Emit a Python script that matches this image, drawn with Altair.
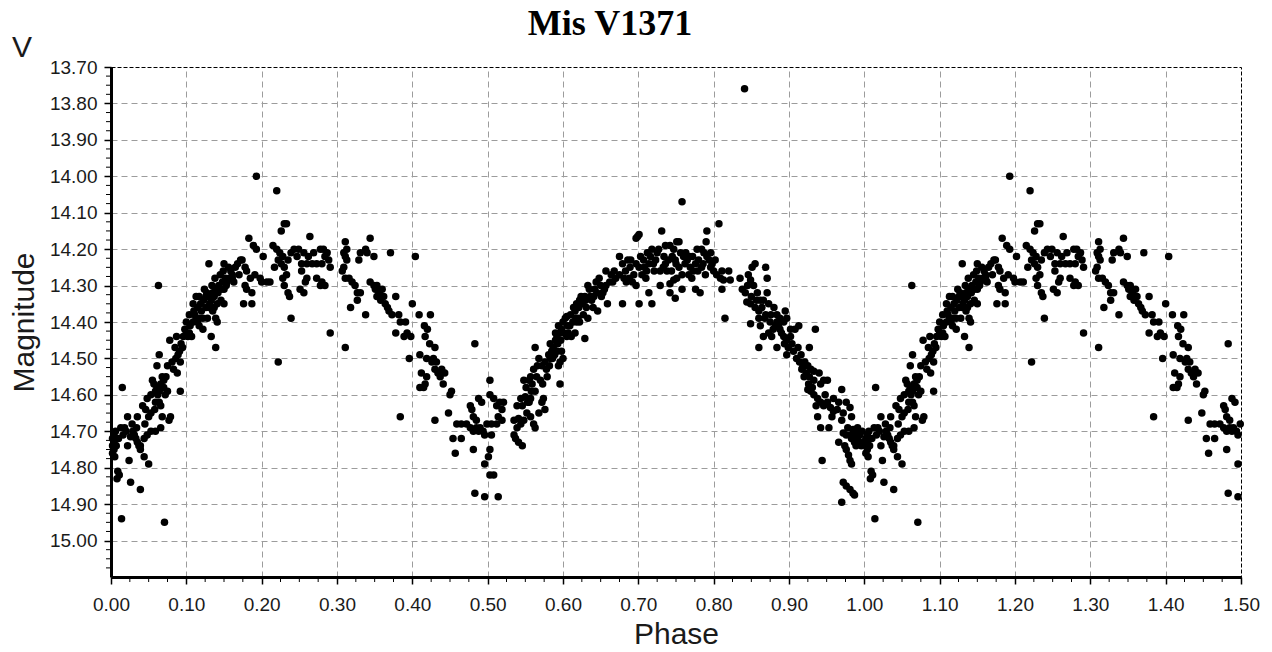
import altair as alt
import pandas as pd

# ---- observations (phase, V magnitude), phase 0..1; phases <= 0.5 are repeated at +1 ----
seg_a = [
    (0.015, 14.58), (0.014, 14.94), (0.071, 14.95), (0.026, 14.84), (0.039, 14.86), (0.024, 14.78),
    (0.050, 14.79), (0.044, 14.77), (0.004, 14.71), (0.004, 14.73), (0.007, 14.74), (0.004, 14.75),
    (0.005, 14.77), (0.009, 14.81), (0.008, 14.83), (0.011, 14.82), (0.013, 14.69), (0.020, 14.70),
    (0.029, 14.70), (0.031, 14.71), (0.033, 14.72), (0.035, 14.73), (0.037, 14.74), (0.039, 14.75),
    (0.022, 14.74), (0.048, 14.71), (0.053, 14.70), (0.059, 14.70), (0.066, 14.69), (0.022, 14.66),
    (0.035, 14.66), (0.053, 14.65), (0.068, 14.66), (0.079, 14.66), (0.042, 14.63), (0.046, 14.64),
    (0.066, 14.63), (0.048, 14.61), (0.055, 14.56), (0.057, 14.57), (0.061, 14.58), (0.066, 14.57),
    (0.070, 14.58), (0.059, 14.59), (0.064, 14.59), (0.068, 14.55), (0.075, 14.59), (0.072, 14.60),
    (0.092, 14.59), (0.053, 14.60), (0.061, 14.52), (0.064, 14.49), (0.075, 14.52), (0.081, 14.51),
    (0.088, 14.54), (0.092, 14.51), (0.002, 14.72), (0.002, 14.74), (0.002, 14.76), (0.018, 14.69),
    (0.026, 14.715), (0.059, 14.62), (0.077, 14.67), (0.064, 14.62), (0.044, 14.72), (0.039, 14.74),
]
seg_b = [
    (0.193, 14.00), (0.220, 14.04), (0.226, 14.15), (0.230, 14.13), (0.233, 14.13), (0.183, 14.17),
    (0.189, 14.19), (0.193, 14.20), (0.202, 14.22), (0.207, 14.29), (0.174, 14.23), (0.178, 14.25),
    (0.180, 14.26), (0.185, 14.28), (0.191, 14.27), (0.198, 14.28), (0.178, 14.30), (0.180, 14.31),
    (0.187, 14.32), (0.200, 14.29), (0.211, 14.29), (0.176, 14.35), (0.187, 14.35), (0.239, 14.39),
    (0.222, 14.51), (0.215, 14.19), (0.220, 14.20), (0.224, 14.21), (0.228, 14.22), (0.222, 14.23),
    (0.226, 14.24), (0.230, 14.25), (0.235, 14.23), (0.239, 14.21), (0.243, 14.20), (0.217, 14.25),
    (0.233, 14.27), (0.228, 14.28), (0.230, 14.30), (0.235, 14.32), (0.237, 14.33), (0.130, 14.24),
    (0.150, 14.24), (0.063, 14.30), (0.172, 14.23), (0.161, 14.27), (0.157, 14.28), (0.152, 14.28),
    (0.148, 14.29), (0.143, 14.30), (0.139, 14.31), (0.135, 14.32), (0.130, 14.33), (0.150, 14.31),
    (0.154, 14.29), (0.124, 14.31), (0.126, 14.33), (0.133, 14.34), (0.137, 14.36), (0.141, 14.35),
    (0.146, 14.34), (0.150, 14.35), (0.139, 14.39), (0.135, 14.37), (0.130, 14.36), (0.117, 14.33),
    (0.115, 14.36), (0.120, 14.37), (0.122, 14.39), (0.128, 14.39), (0.141, 14.40), (0.133, 14.44),
    (0.139, 14.47), (0.113, 14.33), (0.109, 14.35), (0.104, 14.38), (0.100, 14.40), (0.098, 14.42),
    (0.096, 14.44), (0.093, 14.46), (0.091, 14.48), (0.089, 14.49), (0.085, 14.47), (0.078, 14.45),
    (0.087, 14.44), (0.102, 14.44), (0.104, 14.43), (0.113, 14.39), (0.111, 14.38), (0.159, 14.26),
    (0.165, 14.25), (0.170, 14.27), (0.161, 14.28), (0.146, 14.31), (0.137, 14.33), (0.126, 14.36),
    (0.117, 14.39), (0.109, 14.40), (0.100, 14.43), (0.117, 14.41), (0.107, 14.44), (0.122, 14.42),
]
seg_c = [
    (0.264, 14.165), (0.249, 14.20), (0.256, 14.21), (0.262, 14.22), (0.269, 14.21), (0.278, 14.20),
    (0.282, 14.20), (0.287, 14.21), (0.284, 14.22), (0.289, 14.23), (0.291, 14.25), (0.280, 14.24),
    (0.273, 14.24), (0.267, 14.24), (0.260, 14.24), (0.253, 14.24), (0.247, 14.22), (0.253, 14.26),
    (0.260, 14.28), (0.258, 14.29), (0.256, 14.32), (0.273, 14.28), (0.280, 14.29), (0.278, 14.30),
    (0.284, 14.30), (0.291, 14.43), (0.311, 14.47), (0.311, 14.18), (0.313, 14.20), (0.309, 14.21),
    (0.311, 14.22), (0.313, 14.23), (0.309, 14.25), (0.307, 14.26), (0.311, 14.28), (0.316, 14.28),
    (0.320, 14.29), (0.324, 14.30), (0.327, 14.32), (0.331, 14.32), (0.318, 14.36), (0.327, 14.34),
    (0.338, 14.38), (0.329, 14.23), (0.331, 14.21), (0.338, 14.20), (0.340, 14.21), (0.344, 14.17),
    (0.349, 14.22), (0.371, 14.21), (0.404, 14.22), (0.344, 14.29), (0.349, 14.30), (0.351, 14.31),
    (0.353, 14.33), (0.356, 14.32), (0.360, 14.31), (0.358, 14.34), (0.362, 14.33), (0.364, 14.35),
    (0.367, 14.36), (0.369, 14.37), (0.373, 14.38), (0.378, 14.33), (0.353, 14.30), (0.382, 14.38),
    (0.384, 14.40), (0.391, 14.40), (0.393, 14.43), (0.398, 14.44), (0.378, 14.43), (0.389, 14.44),
    (0.396, 14.50), (0.400, 14.35), (0.409, 14.38), (0.416, 14.41), (0.420, 14.42), (0.424, 14.38),
    (0.384, 14.66), (0.251, 14.31),
]
seg_d = [
    (0.483, 14.46), (0.503, 14.56), (0.452, 14.59), (0.450, 14.60), (0.448, 14.65), (0.430, 14.67),
    (0.488, 14.61), (0.492, 14.62), (0.477, 14.63), (0.479, 14.64), (0.481, 14.66), (0.485, 14.67),
    (0.503, 14.60), (0.508, 14.61), (0.516, 14.62), (0.521, 14.62), (0.512, 14.63), (0.519, 14.64),
    (0.514, 14.66), (0.519, 14.67), (0.512, 14.68), (0.505, 14.68), (0.499, 14.68), (0.494, 14.70),
    (0.490, 14.69), (0.485, 14.69), (0.477, 14.69), (0.472, 14.68), (0.465, 14.68), (0.459, 14.68),
    (0.481, 14.70), (0.488, 14.70), (0.496, 14.71), (0.505, 14.71), (0.465, 14.72), (0.454, 14.72),
    (0.503, 14.75), (0.501, 14.77), (0.496, 14.79), (0.503, 14.82), (0.508, 14.82), (0.481, 14.75),
    (0.457, 14.76), (0.483, 14.87), (0.496, 14.88), (0.514, 14.88), (0.423, 14.46), (0.430, 14.47),
    (0.428, 14.50), (0.432, 14.51), (0.430, 14.53), (0.434, 14.54), (0.439, 14.53), (0.443, 14.54),
    (0.437, 14.55), (0.441, 14.57), (0.419, 14.55), (0.417, 14.57), (0.415, 14.58), (0.410, 14.58),
    (0.410, 14.49), (0.417, 14.44), (0.419, 14.50), (0.426, 14.51), (0.412, 14.54),
]
seg_e = [
    (0.537, 14.72), (0.541, 14.73), (0.546, 14.74), (0.535, 14.71), (0.539, 14.69), (0.544, 14.68),
    (0.535, 14.67), (0.541, 14.665), (0.548, 14.67), (0.561, 14.68), (0.563, 14.69), (0.557, 14.66),
    (0.552, 14.65), (0.546, 14.63), (0.539, 14.63), (0.544, 14.61), (0.550, 14.605), (0.557, 14.61),
    (0.555, 14.62), (0.548, 14.56), (0.555, 14.56), (0.572, 14.62), (0.576, 14.64), (0.568, 14.65),
    (0.574, 14.61), (0.563, 14.59), (0.559, 14.57), (0.557, 14.55), (0.561, 14.53), (0.566, 14.52),
    (0.568, 14.50), (0.563, 14.47), (0.572, 14.52), (0.576, 14.51), (0.579, 14.55), (0.581, 14.49),
    (0.585, 14.48), (0.583, 14.46), (0.587, 14.47), (0.590, 14.45), (0.592, 14.44), (0.596, 14.43),
    (0.598, 14.42), (0.594, 14.41), (0.590, 14.43), (0.600, 14.40), (0.603, 14.39), (0.605, 14.385),
    (0.609, 14.41), (0.607, 14.43), (0.598, 14.48), (0.596, 14.51), (0.594, 14.52), (0.600, 14.50),
    (0.596, 14.57), (0.611, 14.44), (0.616, 14.43), (0.618, 14.40), (0.622, 14.40), (0.616, 14.37),
    (0.618, 14.35), (0.622, 14.34), (0.624, 14.33), (0.629, 14.33), (0.633, 14.30), (0.635, 14.31),
    (0.638, 14.34), (0.640, 14.36), (0.631, 14.36), (0.627, 14.38), (0.646, 14.37), (0.651, 14.33),
    (0.653, 14.32), (0.657, 14.30), (0.657, 14.26), (0.664, 14.27), (0.662, 14.29), (0.666, 14.29),
    (0.670, 14.28), (0.675, 14.27), (0.675, 14.22), (0.679, 14.24), (0.683, 14.26), (0.688, 14.28),
    (0.692, 14.29), (0.697, 14.30), (0.690, 14.23), (0.697, 14.24), (0.701, 14.25), (0.705, 14.27),
    (0.707, 14.23), (0.712, 14.21), (0.714, 14.24), (0.697, 14.17), (0.701, 14.16), (0.699, 14.165),
    (0.731, 14.15), (0.718, 14.20), (0.727, 14.20), (0.734, 14.22), (0.736, 14.24), (0.729, 14.30),
    (0.714, 14.32), (0.718, 14.35), (0.701, 14.35), (0.679, 14.35), (0.659, 14.35), (0.633, 14.39),
    (0.629, 14.445), (0.614, 14.36), (0.620, 14.39), (0.642, 14.31), (0.644, 14.29), (0.648, 14.28),
    (0.668, 14.26), (0.681, 14.28), (0.686, 14.23), (0.710, 14.28), (0.723, 14.23), (0.736, 14.19),
    (0.738, 14.26), (0.721, 14.26), (0.583, 14.50), (0.592, 14.48), (0.605, 14.44),
]
seg_f = [
    (0.841, 13.76), (0.758, 14.07), (0.807, 14.13), (0.791, 14.15), (0.790, 14.18), (0.742, 14.19),
    (0.747, 14.20), (0.751, 14.18), (0.754, 14.18), (0.756, 14.21), (0.760, 14.22), (0.762, 14.24),
    (0.765, 14.23), (0.769, 14.25), (0.773, 14.26), (0.776, 14.24), (0.780, 14.23), (0.784, 14.20),
    (0.787, 14.21), (0.791, 14.22), (0.796, 14.21), (0.798, 14.24), (0.800, 14.26), (0.804, 14.27),
    (0.809, 14.28), (0.811, 14.26), (0.813, 14.285), (0.820, 14.26), (0.822, 14.285), (0.758, 14.27),
    (0.751, 14.28), (0.747, 14.285), (0.742, 14.295), (0.749, 14.335), (0.742, 14.32), (0.758, 14.31),
    (0.776, 14.31), (0.782, 14.32), (0.811, 14.31), (0.796, 14.25), (0.784, 14.25), (0.767, 14.27),
    (0.771, 14.28), (0.815, 14.39), (0.835, 14.28), (0.745, 14.22), (0.749, 14.23), (0.754, 14.25),
    (0.778, 14.20), (0.789, 14.27), (0.802, 14.23), (0.851, 14.25), (0.855, 14.24), (0.869, 14.25),
    (0.871, 14.28), (0.846, 14.27), (0.849, 14.285), (0.853, 14.30), (0.842, 14.32), (0.844, 14.345),
    (0.849, 14.35), (0.855, 14.36), (0.860, 14.37), (0.866, 14.34), (0.871, 14.32), (0.873, 14.35),
    (0.880, 14.36), (0.884, 14.38), (0.888, 14.39), (0.895, 14.37), (0.897, 14.39), (0.849, 14.405),
    (0.860, 14.39), (0.862, 14.41), (0.866, 14.44), (0.873, 14.43), (0.877, 14.44), (0.882, 14.41),
    (0.888, 14.42), (0.893, 14.44), (0.897, 14.45), (0.902, 14.44), (0.904, 14.46), (0.908, 14.42),
    (0.913, 14.41), (0.897, 14.49), (0.884, 14.47), (0.860, 14.47), (0.935, 14.42), (0.875, 14.40),
    (0.869, 14.38), (0.858, 14.32), (0.862, 14.34), (0.884, 14.40), (0.893, 14.40), (0.902, 14.42),
]
seg_g = [
    (0.912, 14.47), (0.916, 14.49), (0.914, 14.51), (0.921, 14.51), (0.925, 14.52), (0.929, 14.53),
    (0.923, 14.54), (0.927, 14.55), (0.933, 14.56), (0.940, 14.54), (0.946, 14.56), (0.951, 14.56),
    (0.931, 14.58), (0.925, 14.585), (0.929, 14.59), (0.933, 14.60), (0.938, 14.61), (0.942, 14.62),
    (0.936, 14.63), (0.946, 14.63), (0.951, 14.62), (0.955, 14.635), (0.959, 14.645), (0.964, 14.64),
    (0.957, 14.66), (0.970, 14.585), (0.976, 14.62), (0.981, 14.635), (0.972, 14.65), (0.983, 14.66),
    (0.938, 14.66), (0.942, 14.69), (0.953, 14.69), (0.970, 14.67), (0.927, 14.47), (0.972, 14.705),
    (0.976, 14.71), (0.981, 14.71), (0.985, 14.695), (0.989, 14.705), (0.994, 14.71), (0.983, 14.72),
    (0.987, 14.73), (0.991, 14.72), (0.996, 14.74), (0.998, 14.73), (0.974, 14.74), (0.976, 14.75),
    (0.979, 14.765), (0.981, 14.78), (0.983, 14.79), (0.966, 14.73), (0.972, 14.84), (0.976, 14.85),
    (0.981, 14.86), (0.985, 14.87), (0.987, 14.875), (0.970, 14.895), (0.944, 14.78), (0.918, 14.525),
    (0.933, 14.535), (0.942, 14.57), (0.948, 14.60), (0.959, 14.61), (0.966, 14.62), (0.991, 14.69),
]
seg_h = [
    (0.105, 14.41), (0.110, 14.37), (0.115, 14.40), (0.119, 14.35), (0.123, 14.34), (0.127, 14.32),
    (0.131, 14.35), (0.134, 14.30), (0.138, 14.28), (0.142, 14.32), (0.145, 14.27), (0.149, 14.26),
    (0.153, 14.30), (0.156, 14.25), (0.163, 14.29), (0.168, 14.24), (0.551, 14.58), (0.553, 14.62),
    (0.558, 14.59), (0.565, 14.55), (0.570, 14.56), (0.573, 14.57), (0.578, 14.53), (0.582, 14.52),
    (0.586, 14.50), (0.589, 14.49), (0.593, 14.46), (0.597, 14.45), (0.601, 14.43), (0.606, 14.41),
    (0.610, 14.38), (0.613, 14.40), (0.617, 14.39), (0.621, 14.36), (0.626, 14.35), (0.630, 14.34),
    (0.636, 14.33), (0.641, 14.33), (0.645, 14.32), (0.650, 14.30), (0.655, 14.31), (0.684, 14.29),
    (0.689, 14.25), (0.694, 14.27), (0.703, 14.22), (0.708, 14.25), (0.711, 14.26), (0.716, 14.22),
    (0.720, 14.24), (0.725, 14.21), (0.729, 14.26), (0.733, 14.25), (0.740, 14.23), (0.744, 14.26),
    (0.750, 14.24), (0.763, 14.21), (0.768, 14.22), (0.772, 14.22), (0.779, 14.26), (0.786, 14.24),
    (0.794, 14.23), (0.838, 14.31), (0.845, 14.30), (0.850, 14.33), (0.857, 14.34), (0.864, 14.36),
    (0.868, 14.39), (0.876, 14.38), (0.879, 14.42), (0.886, 14.41), (0.890, 14.43), (0.894, 14.46),
    (0.899, 14.47), (0.906, 14.48), (0.910, 14.50), (0.917, 14.53), (0.920, 14.55), (0.926, 14.57),
    (0.978, 14.69), (0.986, 14.71), (0.993, 14.73), (0.997, 14.70), (0.989, 14.74), (0.006, 14.70),
    (0.010, 14.72), (0.016, 14.71), (0.028, 14.68), (0.034, 14.69), (0.045, 14.68), (0.050, 14.66),
    (0.058, 14.64), (0.062, 14.60), (0.070, 14.56), (0.073, 14.55), (0.083, 14.53), (0.086, 14.50),
    (0.095, 14.47),
]

x_major = [0.0, 0.1, 0.2, 0.3, 0.4, 0.5, 0.6, 0.7, 0.8, 0.9, 1.0, 1.1, 1.2, 1.3, 1.4, 1.5]
y_major = [13.7, 13.8, 13.9, 14.0, 14.1, 14.2, 14.3, 14.4, 14.5, 14.6, 14.7, 14.8, 14.9, 15.0]
x_minor = [0.025, 0.05, 0.075, 0.125, 0.15, 0.175, 0.225, 0.25, 0.275, 0.325, 0.35, 0.375,
           0.425, 0.45, 0.475, 0.525, 0.55, 0.575, 0.625, 0.65, 0.675, 0.725, 0.75, 0.775,
           0.825, 0.85, 0.875, 0.925, 0.95, 0.975, 1.025, 1.05, 1.075, 1.125, 1.15, 1.175,
           1.225, 1.25, 1.275, 1.325, 1.35, 1.375, 1.425, 1.45, 1.475]
y_minor = [13.725, 13.75, 13.775, 13.825, 13.85, 13.875, 13.925, 13.95, 13.975, 14.025, 14.05,
           14.075, 14.125, 14.15, 14.175, 14.225, 14.25, 14.275, 14.325, 14.35, 14.375, 14.425,
           14.45, 14.475, 14.525, 14.55, 14.575, 14.625, 14.65, 14.675, 14.725, 14.75, 14.775,
           14.825, 14.85, 14.875, 14.925, 14.95, 14.975, 15.025, 15.05, 15.075]
title_text = ["Mis V1371"]
band_text = ["V"]

rows = []
for seg in (seg_a, seg_b, seg_c, seg_d, seg_e, seg_f, seg_g, seg_h):
    for p, m in seg:
        rows.append({"phase": p, "mag": m})
        if p <= 0.5:
            rows.append({"phase": p + 1.0, "mag": m})
df = pd.DataFrame(rows)

W, H = 1130, 510
FONT = "Liberation Sans"
xscale = alt.Scale(domain=[0, 1.5], nice=False, zero=False)
yscale = alt.Scale(domain=[13.7, 15.1], nice=False, zero=False, reverse=True)

x_axis = alt.Axis(
    values=x_major, format=".2f", title="Phase", labelFont=FONT, labelFontSize=19,
    labelColor="#1a1a1a", labelPadding=11, labelOverlap=False, labelFlush=False,
    tickSize=7, tickColor="black", tickWidth=1.5, domainColor="black", domainWidth=3,
    grid=True, gridColor="#9c9c9c", gridDash=[6, 4], gridWidth=1,
    gridOpacity={"condition": {"test": "datum.value < 0.01 || datum.value > 1.49", "value": 0}, "value": 1},
    titleFont=FONT, titleFontSize=30, titleFontWeight="normal", titleColor="#1a1a1a",
    titleBaseline="alphabetic", titleY=66,
)
y_axis = alt.Axis(
    values=y_major, format=".2f", title="Magnitude", labelFont=FONT, labelFontSize=19,
    labelColor="#1a1a1a", labelPadding=7, labelOverlap=False, labelFlush=False,
    tickSize=7, tickColor="black", tickWidth=1.5, domainColor="black", domainWidth=3,
    grid=True, gridColor="#9c9c9c", gridDash=[6, 4], gridWidth=1,
    gridOpacity={"condition": {"test": "datum.value < 13.71", "value": 0}, "value": 1},
    titleFont=FONT, titleFontSize=30, titleFontWeight="normal", titleColor="#1a1a1a",
    titleAngle=-90, titleBaseline="alphabetic", titleX=-78, titleY=H / 2,
)

points = alt.Chart(df).mark_circle(size=56, color="black", opacity=1).encode(
    x=alt.X("phase:Q", scale=xscale, axis=x_axis),
    y=alt.Y("mag:Q", scale=yscale, axis=y_axis),
)

xm = alt.Chart(pd.DataFrame({"phase": x_minor})).mark_rule(color="black", strokeWidth=1).encode(
    x=alt.X("phase:Q", scale=xscale, axis=x_axis),
    y=alt.value(H), y2=alt.value(H + 5),
)
ym = alt.Chart(pd.DataFrame({"mag": y_minor})).mark_rule(color="black", strokeWidth=1).encode(
    y=alt.Y("mag:Q", scale=yscale, axis=y_axis),
    x=alt.value(-5), x2=alt.value(0),
)
vlabel = alt.Chart(pd.DataFrame({"t": band_text})).mark_text(
    font=FONT, fontSize=30, color="#1a1a1a", align="center", baseline="alphabetic"
).encode(text="t:N", x=alt.value(-89), y=alt.value(-10))
title = alt.Chart(pd.DataFrame({"t": title_text})).mark_text(
    font="Liberation Serif", fontSize=36, fontWeight="bold", color="black",
    align="center", baseline="alphabetic"
).encode(text="t:N", x=alt.value(499), y=alt.value(-32))

chart = alt.layer(points, xm, ym, vlabel, title).properties(
    width=W, height=H,
    autosize=alt.AutoSizeParams(type="none"),
    padding={"left": 111, "top": 67, "right": 31, "bottom": 75},
).configure_view(stroke="black", strokeDash=[4, 2], strokeWidth=1)

chart.save("out.html", embed_options={"renderer": "svg", "actions": False})
